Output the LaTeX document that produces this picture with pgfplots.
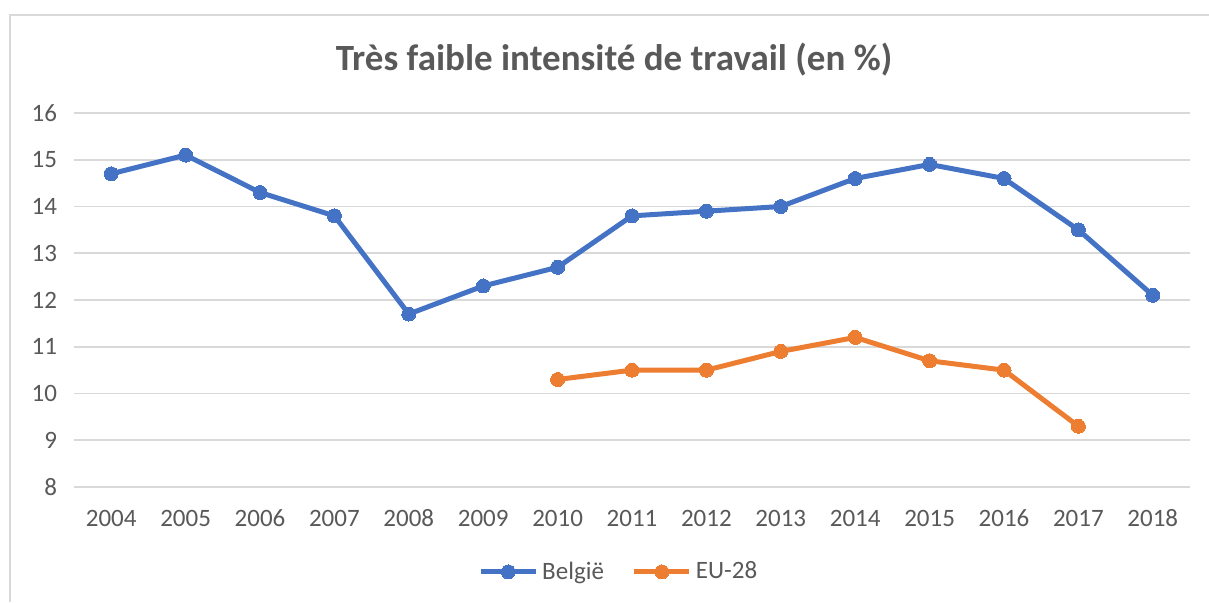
\documentclass[border=0pt]{standalone}
\usepackage{pgfplots}
\pgfplotsset{compat=1.18}
\usepackage{fontspec}
\setmainfont{Carlito}
\definecolor{blueS}{HTML}{4472C4}
\definecolor{orangeS}{HTML}{ED7D31}
\definecolor{gridc}{HTML}{D9D9D9}
\definecolor{txt}{HTML}{595959}
\begin{document}
\begin{tikzpicture}
\useasboundingbox (0,0) rectangle (604.5pt,301pt);
\draw[gridc, line width=0.8pt] (5pt,0) -- (5pt,293.5pt) -- (610pt,293.5pt);
\node[text=txt, font=\fontsize{18.5}{22}\selectfont\bfseries] at (307pt,271pt) {Très faible intensité de travail (en \%)};
\begin{axis}[
  at={(37pt,57.5pt)}, anchor=south west,
  scale only axis, width=558pt, height=187pt,
  xmin=-0.5, xmax=14.5, ymin=8, ymax=16,
  xtick={0,...,14},
  xticklabels={2004,2005,2006,2007,2008,2009,2010,2011,2012,2013,2014,2015,2016,2017,2018},
  ytick={8,...,16},
  axis line style={draw=none},
  major tick length=0pt,
  ymajorgrids, grid style={gridc, line width=0.9pt},
  tick label style={text=txt, font=\fontsize{12.5}{14}\selectfont},
  /pgf/number format/assume math mode=true,
  xticklabel style={yshift=-8pt, text height=8pt, text depth=0pt},
  yticklabel style={xshift=-5pt},
  legend style={at={(0.489,-0.227)}, anchor=center, draw=none, legend columns=2,
    font=\fontsize{12.5}{14}\selectfont, text=txt,
    /tikz/every even column/.append style={column sep=12pt}},
  legend image code/.code={\draw[mark repeat=2,mark phase=2,#1] plot coordinates {(0pt,0pt) (13.75pt,0pt) (27.5pt,0pt)};},
  every axis plot/.append style={line width=2.5pt, mark=*, mark size=3.5pt},
]
\addplot[blueS, mark options={fill=blueS, draw=blueS, line width=0pt}] coordinates {
(0,14.7)(1,15.1)(2,14.3)(3,13.8)(4,11.7)(5,12.3)(6,12.7)(7,13.8)(8,13.9)(9,14.0)(10,14.6)(11,14.9)(12,14.6)(13,13.5)(14,12.1)};
\addlegendentry{België}
\addplot[orangeS, mark options={fill=orangeS, draw=orangeS, line width=0pt}] coordinates {
(6,10.3)(7,10.5)(8,10.5)(9,10.9)(10,11.2)(11,10.7)(12,10.5)(13,9.3)};
\addlegendentry{EU-28}
\end{axis}
\end{tikzpicture}
\end{document}
